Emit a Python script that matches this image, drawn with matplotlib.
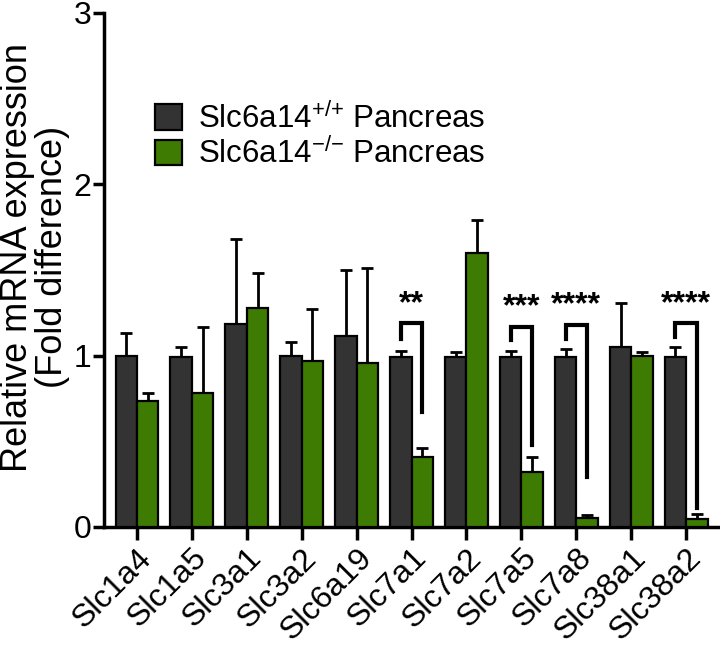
import numpy as np
import matplotlib
matplotlib.use('Agg')
from matplotlib import pyplot as plt

plt.rcParams['font.family'] = ['Liberation Sans', 'DejaVu Sans']
plt.rcParams['mathtext.fontset'] = 'custom'
plt.rcParams['mathtext.rm'] = 'Liberation Sans'
plt.rcParams['mathtext.it'] = 'Liberation Sans'

# data
genes = ['Slc1a4', 'Slc1a5', 'Slc3a1', 'Slc3a2', 'Slc6a19', 'Slc7a1',
         'Slc7a2', 'Slc7a5', 'Slc7a8', 'Slc38a1', 'Slc38a2']
wt_mean = [1.00, 0.99, 1.185, 1.00, 1.115, 0.99, 0.99, 0.99, 0.99, 1.05, 0.99]
wt_err = [0.13, 0.06, 0.495, 0.08, 0.385, 0.04, 0.03, 0.04, 0.05, 0.26, 0.06]
ko_mean = [0.735, 0.78, 1.28, 0.97, 0.96, 0.41, 1.60, 0.32, 0.05, 1.00, 0.045]
ko_err = [0.045, 0.39, 0.20, 0.30, 0.55, 0.05, 0.19, 0.09, 0.02, 0.02, 0.03]

# significance brackets: gene index, stars, bracket top, left leg end, right leg end
sig_idx = [5, 7, 8, 10]
sig_text = ['**', '***', '****', '****']
sig_top = [1.19, 1.17, 1.18, 1.19]
sig_left = [1.10, 1.09, 1.10, 1.11]
sig_right = [0.67, 0.48, 0.29, 0.11]

labels = [r'Slc6a14$^{{+}/{+}}$ Pancreas', r'Slc6a14$^{{-}/{-}}$ Pancreas']
dark = '#333333'
green = '#3d7b02'

fig = plt.figure(figsize=(7.2, 6.48), dpi=100)
ax = fig.add_axes([104 / 720, 1 - 527 / 648, 614 / 720, 514 / 648])

x = np.arange(len(genes))
w = 0.39
off = 0.195
ax.bar(x - off, wt_mean, w, color=dark, edgecolor='black', linewidth=1.6,
       label=labels[0], zorder=3)
ax.bar(x + off, ko_mean, w, color=green, edgecolor='black', linewidth=1.6,
       label=labels[1], zorder=3)
ax.errorbar(x - off, wt_mean, yerr=[np.zeros(len(x)), wt_err], fmt='none',
            ecolor='black', elinewidth=2, capsize=4.5, capthick=2, zorder=2)
ax.errorbar(x + off, ko_mean, yerr=[np.zeros(len(x)), ko_err], fmt='none',
            ecolor='black', elinewidth=2, capsize=4.5, capthick=2, zorder=2)

for i, s, top, lb, rb in zip(sig_idx, sig_text, sig_top, sig_left, sig_right):
    xl, xr = i - off, i + off
    ax.plot([xl, xl, xr, xr], [lb, top, top, rb], color='black', lw=3,
            solid_joinstyle='miter', zorder=4)
    ax.text(i, top + 0.025, s, ha='center', va='bottom', fontsize=23,
            fontweight='bold', zorder=4)

ax.set_xlim(-0.6, len(genes) - 0.42)
ax.set_ylim(0, 3)
ax.set_yticks([0, 1, 2, 3])
ax.set_xticks(x)
ax.set_xticklabels(genes, rotation=45, ha='right', rotation_mode='anchor',
                   fontsize=23)
ax.tick_params(axis='y', labelsize=23, width=2.5, length=8, pad=1)
ax.tick_params(axis='x', width=2.5, length=9, pad=2.5)
for side in ['top', 'right']:
    ax.spines[side].set_visible(False)
for side in ['left', 'bottom']:
    ax.spines[side].set_linewidth(2.5)

fig.text(35 / 720, 1 - 257 / 648, 'Relative mRNA expression\n(Fold difference)',
         rotation=90, ha='center', va='center', fontsize=26, linespacing=1.0)

ax.legend(loc='upper left', bbox_to_anchor=(0.083, 0.825), frameon=False,
          fontsize=22.5, handlelength=0.88, handleheight=0.88, handletextpad=0.5,
          labelspacing=0.1, borderpad=0, borderaxespad=0)

fig.savefig('out.png', dpi=100)
